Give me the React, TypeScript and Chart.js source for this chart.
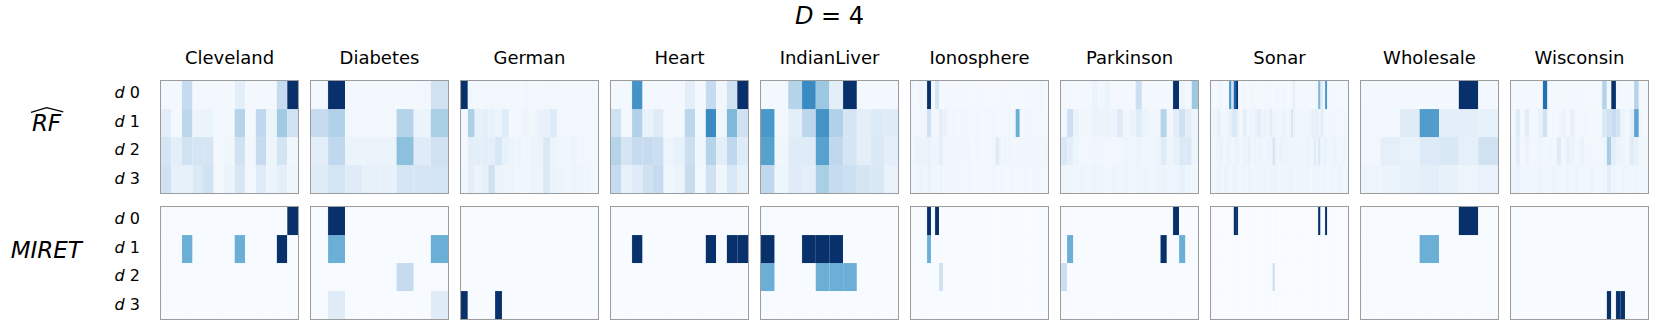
import React, { useEffect, useRef } from "react";
import { Chart, registerables } from "chart.js";

Chart.register(...registerables);

// ---------------- data ----------------
const DATASET_NAMES = [
  "Cleveland", "Diabetes", "German", "Heart", "IndianLiver",
  "Ionosphere", "Parkinson", "Sonar", "Wholesale", "Wisconsin",
];
const FEATURE_COUNTS = [13, 8, 20, 13, 10, 34, 22, 60, 7, 30];
const DEPTH_LABELS = ["0", "1", "2", "3"];

// RF-hat importance per depth (rows d0..d3), normalised 0..1
const rfCleveland = [
  [0.02, 0.02, 0.25, 0.02, 0.02, 0.02, 0.02, 0.1, 0.02, 0.02, 0.02, 0.25, 1.0],
  [0.1, 0.02, 0.28, 0.05, 0.06, 0.03, 0.03, 0.3, 0.02, 0.27, 0.06, 0.37, 0.2],
  [0.17, 0.1, 0.2, 0.17, 0.17, 0.02, 0.04, 0.2, 0.03, 0.25, 0.05, 0.18, 0.04],
  [0.2, 0.08, 0.08, 0.14, 0.2, 0.03, 0.06, 0.16, 0.03, 0.12, 0.05, 0.09, 0.05],
];
const rfDiabetes = [
  [0.02, 1.0, 0.02, 0.02, 0.02, 0.02, 0.03, 0.2],
  [0.25, 0.32, 0.03, 0.03, 0.03, 0.3, 0.06, 0.34],
  [0.1, 0.27, 0.06, 0.06, 0.06, 0.42, 0.12, 0.2],
  [0.12, 0.18, 0.12, 0.08, 0.08, 0.17, 0.17, 0.18],
];
const rfGerman = [
  [1.0, 0.04, 0.03, 0.03, 0.03, 0.03, 0.03, 0.03, 0.02, 0.03, 0.02, 0.02, 0.03, 0.03, 0.02, 0.02, 0.02, 0.02, 0.02, 0.02],
  [0.02, 0.33, 0.08, 0.1, 0.08, 0.06, 0.12, 0.03, 0.03, 0.05, 0.03, 0.07, 0.08, 0.13, 0.03, 0.03, 0.03, 0.03, 0.03, 0.03],
  [0.03, 0.1, 0.1, 0.1, 0.1, 0.16, 0.08, 0.05, 0.05, 0.04, 0.05, 0.06, 0.15, 0.06, 0.04, 0.04, 0.06, 0.03, 0.03, 0.03],
  [0.04, 0.1, 0.06, 0.08, 0.2, 0.06, 0.05, 0.05, 0.04, 0.04, 0.05, 0.05, 0.15, 0.06, 0.05, 0.04, 0.05, 0.05, 0.04, 0.02],
];
const rfHeart = [
  [0.02, 0.02, 0.62, 0.02, 0.02, 0.02, 0.02, 0.1, 0.02, 0.25, 0.03, 0.2, 1.0],
  [0.2, 0.02, 0.32, 0.07, 0.12, 0.02, 0.03, 0.28, 0.02, 0.65, 0.04, 0.45, 0.2],
  [0.3, 0.17, 0.25, 0.25, 0.22, 0.05, 0.08, 0.22, 0.04, 0.3, 0.1, 0.27, 0.12],
  [0.25, 0.08, 0.12, 0.2, 0.25, 0.04, 0.06, 0.24, 0.03, 0.2, 0.04, 0.16, 0.08],
];
const rfIndianLiver = [
  [0.02, 0.02, 0.3, 0.65, 0.38, 0.1, 1.0, 0.02, 0.02, 0.02],
  [0.6, 0.03, 0.1, 0.28, 0.62, 0.32, 0.17, 0.1, 0.13, 0.12],
  [0.56, 0.04, 0.12, 0.12, 0.56, 0.27, 0.17, 0.1, 0.14, 0.1],
  [0.27, 0.05, 0.12, 0.1, 0.34, 0.25, 0.22, 0.17, 0.15, 0.07],
];
const rfIonosphere = [
  [0.02, 0.02, 0.05, 0.02, 1.0, 0.02, 0.17, 0.02, 0.02, 0.02, 0.02, 0.02, 0.02, 0.02, 0.02, 0.02, 0.02, 0.02, 0.02, 0.02, 0.02, 0.02, 0.02, 0.02, 0.02, 0.02, 0.02, 0.02, 0.02, 0.02, 0.02, 0.02, 0.04, 0.02],
  [0.03, 0.03, 0.04, 0.03, 0.2, 0.04, 0.03, 0.1, 0.07, 0.03, 0.04, 0.03, 0.03, 0.04, 0.03, 0.03, 0.04, 0.03, 0.03, 0.04, 0.03, 0.03, 0.03, 0.03, 0.04, 0.03, 0.5, 0.03, 0.03, 0.04, 0.03, 0.03, 0.03, 0.03],
  [0.03, 0.06, 0.06, 0.06, 0.07, 0.05, 0.05, 0.1, 0.04, 0.04, 0.04, 0.04, 0.03, 0.04, 0.04, 0.03, 0.04, 0.03, 0.03, 0.04, 0.04, 0.12, 0.04, 0.05, 0.04, 0.03, 0.04, 0.04, 0.03, 0.04, 0.03, 0.04, 0.03, 0.04],
  [0.03, 0.04, 0.06, 0.04, 0.07, 0.04, 0.04, 0.05, 0.03, 0.04, 0.03, 0.04, 0.03, 0.03, 0.04, 0.03, 0.03, 0.04, 0.03, 0.03, 0.04, 0.03, 0.04, 0.03, 0.03, 0.04, 0.03, 0.03, 0.04, 0.03, 0.03, 0.04, 0.03, 0.03],
];
const rfParkinson = [
  [0.02, 0.02, 0.02, 0.02, 0.02, 0.06, 0.03, 0.06, 0.02, 0.02, 0.02, 0.02, 0.22, 0.02, 0.02, 0.02, 0.02, 0.02, 1.0, 0.05, 0.02, 0.38],
  [0.03, 0.22, 0.06, 0.04, 0.03, 0.06, 0.06, 0.06, 0.05, 0.12, 0.04, 0.06, 0.12, 0.06, 0.04, 0.04, 0.3, 0.03, 0.1, 0.2, 0.1, 0.05],
  [0.15, 0.1, 0.05, 0.03, 0.03, 0.04, 0.04, 0.03, 0.03, 0.03, 0.05, 0.04, 0.06, 0.04, 0.04, 0.05, 0.12, 0.05, 0.08, 0.14, 0.14, 0.05],
  [0.05, 0.05, 0.04, 0.05, 0.04, 0.05, 0.05, 0.04, 0.05, 0.04, 0.05, 0.04, 0.05, 0.05, 0.04, 0.05, 0.06, 0.05, 0.05, 0.08, 0.05, 0.04],
];
const rfSonar = [
  [0.02, 0.02, 0.02, 0.03, 0.04, 0.03, 0.02, 0.03, 0.6, 0.2, 0.8, 1.0, 0.03, 0.02, 0.03, 0.03, 0.02, 0.02, 0.04, 0.03, 0.03, 0.02, 0.02, 0.03, 0.04, 0.03, 0.03, 0.02, 0.02, 0.03, 0.02, 0.02, 0.03, 0.02, 0.02, 0.03, 0.1, 0.03, 0.02, 0.02, 0.02, 0.03, 0.02, 0.02, 0.03, 0.03, 0.04, 0.45, 0.12, 0.04, 0.6, 0.03, 0.02, 0.02, 0.02, 0.02, 0.02, 0.02, 0.02, 0.02],
  [0.04, 0.06, 0.05, 0.1, 0.04, 0.03, 0.05, 0.04, 0.08, 0.14, 0.15, 0.12, 0.04, 0.03, 0.1, 0.08, 0.04, 0.05, 0.04, 0.06, 0.1, 0.1, 0.05, 0.08, 0.04, 0.06, 0.12, 0.05, 0.04, 0.05, 0.04, 0.05, 0.06, 0.04, 0.05, 0.15, 0.08, 0.04, 0.03, 0.04, 0.04, 0.05, 0.04, 0.05, 0.1, 0.08, 0.1, 0.06, 0.12, 0.05, 0.04, 0.04, 0.03, 0.04, 0.03, 0.04, 0.03, 0.03, 0.04, 0.03],
  [0.05, 0.04, 0.06, 0.05, 0.07, 0.05, 0.04, 0.06, 0.05, 0.04, 0.06, 0.07, 0.05, 0.04, 0.06, 0.05, 0.1, 0.05, 0.04, 0.06, 0.05, 0.05, 0.06, 0.04, 0.05, 0.06, 0.05, 0.18, 0.06, 0.05, 0.07, 0.06, 0.05, 0.06, 0.05, 0.04, 0.06, 0.05, 0.05, 0.04, 0.05, 0.06, 0.05, 0.06, 0.05, 0.12, 0.06, 0.15, 0.05, 0.06, 0.07, 0.05, 0.04, 0.05, 0.06, 0.05, 0.04, 0.05, 0.06, 0.04],
  [0.05, 0.04, 0.05, 0.06, 0.05, 0.04, 0.08, 0.05, 0.04, 0.05, 0.06, 0.05, 0.04, 0.05, 0.05, 0.04, 0.06, 0.05, 0.04, 0.05, 0.05, 0.04, 0.05, 0.06, 0.04, 0.05, 0.05, 0.06, 0.05, 0.04, 0.05, 0.04, 0.05, 0.05, 0.06, 0.05, 0.04, 0.05, 0.05, 0.04, 0.05, 0.06, 0.05, 0.04, 0.05, 0.05, 0.06, 0.05, 0.04, 0.05, 0.05, 0.04, 0.05, 0.05, 0.04, 0.05, 0.06, 0.05, 0.04, 0.05],
];
const rfWholesale = [
  [0.02, 0.02, 0.02, 0.02, 0.02, 1.0, 0.02],
  [0.03, 0.03, 0.12, 0.58, 0.1, 0.1, 0.08],
  [0.03, 0.09, 0.07, 0.13, 0.15, 0.09, 0.2],
  [0.05, 0.06, 0.08, 0.1, 0.08, 0.05, 0.07],
];
const rfWisconsin = [
  [0.02, 0.02, 0.02, 0.02, 0.02, 0.02, 0.02, 0.75, 0.02, 0.02, 0.02, 0.02, 0.02, 0.02, 0.02, 0.02, 0.02, 0.02, 0.02, 0.02, 0.3, 0.02, 1.0, 0.03, 0.02, 0.02, 0.02, 0.3, 0.02, 0.02],
  [0.02, 0.12, 0.02, 0.1, 0.02, 0.03, 0.08, 0.2, 0.02, 0.02, 0.03, 0.06, 0.02, 0.08, 0.02, 0.02, 0.03, 0.02, 0.02, 0.03, 0.15, 0.2, 0.25, 0.18, 0.06, 0.03, 0.1, 0.55, 0.04, 0.02],
  [0.04, 0.1, 0.03, 0.06, 0.03, 0.03, 0.05, 0.03, 0.04, 0.03, 0.12, 0.04, 0.08, 0.06, 0.03, 0.06, 0.03, 0.04, 0.03, 0.04, 0.05, 0.35, 0.1, 0.06, 0.05, 0.04, 0.12, 0.08, 0.04, 0.03],
  [0.05, 0.07, 0.04, 0.04, 0.04, 0.04, 0.05, 0.04, 0.04, 0.05, 0.04, 0.04, 0.05, 0.04, 0.05, 0.04, 0.04, 0.05, 0.04, 0.04, 0.05, 0.1, 0.05, 0.04, 0.05, 0.04, 0.04, 0.05, 0.04, 0.04],
];

// MIRET: non-zero cells only, as [depth, feature, value]; every other cell is 0
const miretCleveland = [[0, 12, 1], [1, 2, 0.5], [1, 7, 0.5], [1, 11, 1]];
const miretDiabetes = [[0, 1, 1], [1, 1, 0.5], [1, 7, 0.5], [2, 5, 0.25], [3, 1, 0.12], [3, 7, 0.12]];
const miretGerman = [[3, 0, 1], [3, 5, 1]];
const miretHeart = [[1, 2, 1], [1, 9, 1], [1, 11, 1], [1, 12, 1]];
const miretIndianLiver = [[1, 0, 1], [1, 3, 1], [1, 4, 1], [1, 5, 1], [2, 0, 0.5], [2, 4, 0.5], [2, 5, 0.5], [2, 6, 0.5]];
const miretIonosphere = [[0, 4, 1], [0, 6, 1], [1, 4, 0.5], [2, 7, 0.2]];
const miretParkinson = [[0, 18, 1], [1, 1, 0.5], [1, 16, 1], [1, 19, 0.5], [2, 0, 0.22]];
const miretSonar = [[0, 10, 1], [0, 11, 1], [0, 47, 1], [0, 50, 1], [2, 27, 0.22]];
const miretWholesale = [[0, 5, 1], [1, 3, 0.5]];
const miretWisconsin = [[3, 21, 1], [3, 23, 1], [3, 24, 1]];

const RF_ROWS = [rfCleveland, rfDiabetes, rfGerman, rfHeart, rfIndianLiver, rfIonosphere, rfParkinson, rfSonar, rfWholesale, rfWisconsin];
const MIRET_CELLS = [miretCleveland, miretDiabetes, miretGerman, miretHeart, miretIndianLiver, miretIonosphere, miretParkinson, miretSonar, miretWholesale, miretWisconsin];

// ---------------- colour map (matplotlib "Blues") ----------------
const BLUES = ["#f7fbff", "#deebf7", "#c6dbef", "#9ecae1", "#6baed6", "#4292c6", "#2171b5", "#08519c", "#08306b"];
const hex = (h: string) => [parseInt(h.slice(1, 3), 16), parseInt(h.slice(3, 5), 16), parseInt(h.slice(5, 7), 16)];
const BLUES_RGB = BLUES.map(hex);
function bluesRgb(v: number): number[] {
  const t = Math.max(0, Math.min(1, v)) * (BLUES.length - 1);
  const i = Math.min(BLUES.length - 2, Math.floor(t));
  const f = t - i;
  const a = BLUES_RGB[i], b = BLUES_RGB[i + 1];
  return a.map((x, k) => Math.round(x + (b[k] - x) * f));
}
function blues(v: number): string {
  const c = bluesRgb(v);
  return `rgb(${c[0]},${c[1]},${c[2]})`;
}
function bluesEdge(v: number): string {
  const c = bluesRgb(v).map((x) => Math.round(x + (255 - x) * 0.35));
  return `rgb(${c[0]},${c[1]},${c[2]})`;
}

function denseFromCells(cells: number[][], n: number): number[][] {
  const m = DEPTH_LABELS.map(() => new Array(n).fill(0));
  cells.forEach(([r, c, v]) => { m[r][c] = v; });
  return m;
}

// ---------------- layout ----------------
const FONT = "'DejaVu Sans', sans-serif";
const PANEL_X0 = 160;
const PANEL_DX = 150;
const PANEL_W = 139;
const PANEL_H = 113.5;
const ROW_TOPS = [80, 206];

function Heatmap({ matrix, left, top }: { matrix: number[][]; left: number; top: number }) {
  const ref = useRef<HTMLCanvasElement | null>(null);
  const cw = PANEL_W - 2;
  const ch = 112;
  useEffect(() => {
    if (!ref.current) return;
    const chart = new Chart(ref.current, {
      type: "bar",
      data: {
        labels: matrix[0].map((_, i) => `x${i}`),
        datasets: matrix.map((row, r) => ({
          label: `d ${r}`,
          data: row.map(() => [r, r + 1]) as any,
          backgroundColor: row.map(blues),
          borderColor: row.map(bluesEdge),
          borderWidth: 0.4,
          borderSkipped: false,
          barPercentage: 1,
          categoryPercentage: 1,
          grouped: false,
        })),
      },
      options: {
        animation: false,
        responsive: false,
        maintainAspectRatio: false,
        layout: { padding: 0 },
        plugins: { legend: { display: false }, tooltip: { enabled: false }, title: { display: false } },
        scales: {
          x: { display: false, offset: true },
          y: { display: false, min: 0, max: 4, reverse: true },
        },
      } as any,
    });
    return () => chart.destroy();
  }, []);
  return (
    <>
      <canvas
        ref={ref}
        width={cw}
        height={ch}
        style={{ position: "absolute", left: left + 1, top: top + 1, width: cw, height: ch, display: "block" }}
      />
      <div
        style={{
          position: "absolute", left, top, width: PANEL_W, height: PANEL_H,
          border: "1.3px solid #9c9c9c", boxSizing: "border-box", pointerEvents: "none",
        }}
      />
    </>
  );
}

function Txt({ x, baseline, size, align, children }: { x: number; baseline: number; size: number; align: "left" | "center" | "right"; children: React.ReactNode }) {
  const W = 600;
  const left = align === "center" ? x - W / 2 : align === "right" ? x - W : x;
  return (
    <div
      style={{
        position: "absolute", left, width: W, top: baseline - 0.846 * size,
        fontSize: size, lineHeight: `${size}px`, fontFamily: FONT, textAlign: align,
        whiteSpace: "nowrap", color: "#000",
      }}
    >
      {children}
    </div>
  );
}

export default function App() {
  const rowBaseTop = [99, 127.5, 156, 184.5];
  const rowBaseBottom = [225, 253.5, 282, 310.5];
  return (
    <div style={{ position: "fixed", left: 0, top: 0, width: 1661, height: 332, background: "#fff", overflow: "hidden" }}>
      <Txt x={829.5} baseline={24} size={24} align="center">
        <i>D</i> = 4
      </Txt>
      {DATASET_NAMES.map((name, k) => (
        <Txt key={name} x={PANEL_X0 + PANEL_DX * k + PANEL_W / 2} baseline={64.3} size={18} align="center">
          {name}
        </Txt>
      ))}
      {DEPTH_LABELS.map((d, r) => (
        <React.Fragment key={d}>
          <Txt x={140} baseline={rowBaseTop[r]} size={16} align="right"><i>d</i> {d}</Txt>
          <Txt x={140} baseline={rowBaseBottom[r]} size={16} align="right"><i>d</i> {d}</Txt>
        </React.Fragment>
      ))}
      <Txt x={46.5} baseline={131.7} size={23} align="center"><i>RF</i></Txt>
      <Txt x={46.3} baseline={258.3} size={23} align="center"><i>MIRET</i></Txt>
      <svg style={{ position: "absolute", left: 0, top: 0 }} width={1661} height={332}>
        <polyline points="31,112.3 46.7,107.6 63.3,111.8" fill="none" stroke="#000" strokeWidth={1.3} />
      </svg>
      {RF_ROWS.map((m, k) => (
        <Heatmap key={`rf${k}`} matrix={m} left={PANEL_X0 + PANEL_DX * k} top={ROW_TOPS[0]} />
      ))}
      {MIRET_CELLS.map((cells, k) => (
        <Heatmap key={`mi${k}`} matrix={denseFromCells(cells, FEATURE_COUNTS[k])} left={PANEL_X0 + PANEL_DX * k} top={ROW_TOPS[1]} />
      ))}
    </div>
  );
}
